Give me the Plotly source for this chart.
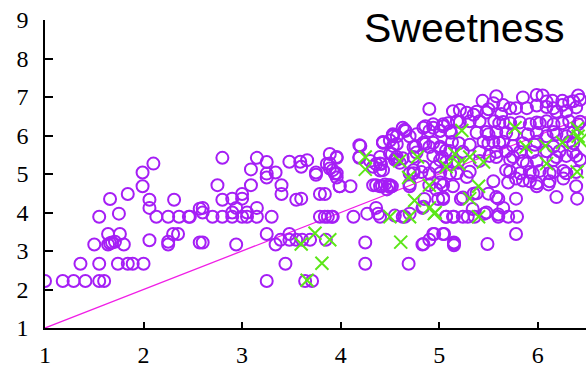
import plotly.graph_objects as go

# Rated sweetness (x) against predicted sweetness (y)
train_x = [
    1.00, 1.18, 1.29, 1.41, 1.55, 1.60, 1.36, 1.55, 1.74, 1.84, 1.89, 2.00,
    1.50, 1.64, 1.68, 1.71, 1.66, 1.80, 1.64, 1.76, 1.55, 1.75, 1.66, 1.84,
    1.99, 1.99, 2.10, 2.06, 2.06, 2.06, 2.13, 2.25, 2.36, 2.46, 2.25, 2.25,
    2.30, 2.35, 2.31, 2.57, 2.57, 2.80, 3.15, 3.25, 3.09, 3.25, 3.25, 3.34,
    3.48, 3.59, 3.66, 3.60, 3.75, 3.75, 3.89, 3.96, 3.86, 3.89, 3.94, 3.96,
    2.75, 3.09, 3.40, 3.40, 2.90, 3.00, 3.00, 2.80, 3.55, 3.60, 3.79, 3.84,
    2.60, 2.60, 2.94, 3.15, 2.47, 2.70, 2.80, 2.90, 3.00, 3.05, 3.15, 3.30,
    2.90, 3.05, 3.79, 3.84, 3.87, 3.91, 3.25, 3.48, 3.39, 3.48, 3.55, 3.61,
    3.69, 3.85, 3.34, 2.60, 2.94, 3.44, 3.25, 3.64, 3.71, 3.99, 4.10, 4.20,
    4.19, 4.30, 4.36, 4.41, 4.40, 4.43, 4.53, 4.53, 4.52, 4.57, 4.60, 4.36,
    4.42, 4.49, 4.52, 4.13, 4.27, 4.36, 4.40, 4.25, 4.25, 4.55, 4.83, 4.90,
    4.95, 5.05, 5.15, 5.15, 4.69, 3.92, 4.38, 4.65, 4.70, 4.85, 4.83, 4.99,
    5.04, 5.07, 5.15, 5.22, 4.90, 5.58, 5.44, 5.55, 5.65, 5.85, 5.99, 6.05,
    6.15, 6.25, 6.36, 6.41, 5.14, 5.21, 5.28, 5.35, 5.50, 5.63, 5.72, 5.78,
    5.89, 5.99, 6.09, 6.16, 6.25, 6.29, 6.39, 4.94, 5.04, 5.09, 5.18, 5.31,
    5.41, 5.56, 5.61, 5.72, 5.82, 5.92, 6.02, 6.09, 6.16, 6.25, 6.32, 6.41,
    4.53, 4.65, 4.86, 5.01, 5.12, 5.38, 5.50, 5.75, 5.90, 5.99, 6.09, 6.19,
    6.29, 4.43, 4.57, 4.76, 4.86, 5.01, 5.13, 5.20, 5.31, 5.50, 5.61, 5.75,
    5.85, 5.97, 6.16, 6.36, 4.40, 4.55, 4.74, 4.94, 5.03, 5.19, 5.51, 5.58,
    5.75, 5.89, 5.99, 6.19, 6.29, 6.39, 4.43, 4.74, 4.82, 5.01, 5.18, 5.28,
    5.68, 5.82, 5.95, 6.12, 6.29, 6.39, 4.70, 5.01, 5.70, 5.85, 5.99, 4.45,
    4.50, 5.04, 5.24, 5.38, 5.58, 5.78, 6.19, 6.40, 4.84, 5.07, 5.14, 5.29,
    5.34, 5.48, 5.60, 5.70, 5.79, 4.63, 4.94, 5.04, 4.84, 5.15, 5.49, 5.78,
    5.78, 5.99, 6.11, 6.26, 6.39, 5.60, 5.50, 5.35, 5.65, 5.60, 5.46, 5.36,
    5.24, 6.09, 6.32, 6.43, 5.38, 5.48, 6.19, 5.21, 5.65, 5.99, 6.43, 5.48,
    5.58, 5.68, 6.16, 6.36, 5.45, 5.55, 5.65, 5.99, 6.32, 5.11, 5.24, 5.41,
    5.58, 5.68, 5.82, 5.95, 6.09, 6.22, 6.36, 5.14, 5.41, 5.72, 5.85, 6.16,
    6.43, 5.31, 5.72, 5.92, 6.02, 6.16, 6.26, 5.55, 5.92, 6.12, 5.04, 4.94,
    5.11, 5.01, 4.84, 4.90, 4.63, 4.66, 4.57, 4.70, 4.53, 4.77, 4.43, 4.50,
    4.84, 4.94, 4.19, 4.74, 4.90, 5.01, 5.07, 4.77, 4.50, 4.57, 4.63, 3.96,
    4.19, 4.40, 4.33, 4.84, 5.01, 5.07, 4.97, 5.11, 4.90, 4.70, 4.74, 3.89,
    3.92, 3.96, 4.33, 4.40, 4.50, 4.47, 4.70, 4.90, 4.97, 5.04, 5.14, 3.99,
]
train_y = [
    2.22, 2.22, 2.22, 2.22, 2.22, 2.22, 2.67, 2.67, 2.67, 2.67, 2.67, 2.67,
    3.17, 3.17, 3.22, 3.24, 3.20, 3.17, 3.44, 3.44, 3.89, 3.97, 4.35, 4.48,
    4.68, 5.04, 5.27, 4.33, 4.12, 3.28, 3.89, 3.89, 3.89, 3.89, 3.24, 3.17,
    3.44, 3.44, 4.33, 4.10, 3.22, 5.42, 5.42, 5.31, 5.12, 5.01, 4.91, 5.04,
    5.32, 5.32, 5.36, 5.19, 5.04, 4.98, 5.52, 5.42, 5.26, 5.14, 5.01, 4.91,
    4.71, 4.71, 4.71, 4.48, 4.36, 4.48, 4.36, 4.33, 4.33, 4.36, 4.48, 4.48,
    4.12, 4.00, 4.12, 4.12, 3.89, 3.89, 3.89, 3.89, 3.89, 3.89, 3.89, 3.89,
    4.00, 4.00, 3.89, 3.89, 3.89, 3.89, 3.44, 3.44, 3.29, 3.29, 3.29, 3.29,
    3.29, 3.29, 3.17, 3.22, 3.17, 2.67, 2.22, 2.22, 2.22, 4.68, 4.68, 5.73,
    5.42, 5.34, 5.26, 5.26, 5.09, 5.82, 6.00, 5.73, 5.52, 5.37, 5.29, 4.71,
    4.68, 4.71, 4.68, 3.89, 3.97, 4.12, 3.89, 3.22, 2.67, 3.92, 3.17, 3.29,
    3.44, 3.44, 3.22, 3.15, 2.67, 3.89, 3.97, 3.89, 3.97, 4.35, 4.12, 4.35,
    4.35, 3.89, 3.89, 4.35, 6.69, 7.02, 6.90, 6.84, 6.79, 6.99, 7.05, 7.04,
    6.90, 6.90, 6.89, 7.04, 6.63, 6.66, 6.59, 6.54, 6.68, 6.56, 6.71, 6.71,
    6.71, 6.78, 6.74, 6.71, 6.79, 6.63, 6.73, 6.29, 6.24, 6.32, 6.37, 6.37,
    6.37, 6.37, 6.32, 6.32, 6.34, 6.29, 6.32, 6.37, 6.29, 6.32, 6.37, 6.29,
    5.98, 6.15, 6.24, 6.12, 6.07, 6.07, 6.03, 6.03, 6.03, 6.07, 5.98, 6.03,
    5.98, 5.83, 5.78, 5.71, 5.78, 5.71, 5.83, 5.80, 5.76, 5.80, 5.81, 5.73,
    5.80, 5.76, 5.71, 5.80, 5.44, 5.37, 5.44, 5.47, 5.44, 5.29, 5.47, 5.44,
    5.44, 5.27, 5.34, 5.44, 5.47, 5.47, 5.10, 5.02, 5.05, 5.02, 5.02, 4.92,
    5.10, 5.02, 5.02, 5.02, 5.02, 5.05, 4.74, 4.78, 4.78, 4.83, 4.76, 4.73,
    4.66, 4.39, 4.39, 4.50, 4.40, 4.36, 4.40, 4.36, 4.15, 3.89, 3.89, 3.89,
    4.09, 4.00, 3.89, 3.89, 3.89, 3.89, 3.44, 3.44, 3.18, 3.19, 3.18, 3.44,
    4.88, 4.68, 4.73, 4.88, 4.68, 4.36, 4.49, 4.49, 4.12, 3.95, 3.97, 3.89,
    3.89, 6.88, 6.86, 6.93, 6.62, 6.60, 6.62, 6.35, 6.35, 6.34, 6.36, 6.09,
    6.09, 6.07, 6.09, 6.07, 5.84, 5.84, 5.84, 5.84, 5.84, 5.60, 5.58, 5.57,
    5.57, 5.59, 5.57, 5.57, 5.59, 5.59, 5.57, 5.32, 5.34, 5.37, 5.34, 5.36,
    5.37, 5.06, 5.06, 5.05, 5.08, 5.05, 5.08, 4.81, 4.81, 4.81, 6.29, 6.20,
    6.12, 6.12, 6.20, 6.12, 6.20, 6.12, 5.98, 5.98, 6.03, 6.03, 5.81, 5.87,
    5.81, 5.81, 5.75, 5.70, 5.70, 5.66, 5.61, 5.56, 5.53, 5.44, 5.41, 5.44,
    5.44, 5.27, 5.19, 5.19, 5.36, 5.31, 5.19, 5.02, 5.02, 5.02, 5.10, 5.27,
    5.10, 5.02, 4.71, 4.68, 4.71, 4.60, 4.68, 4.71, 4.60, 4.71, 4.68, 4.68,
]

test_x = [
    5.23, 5.77, 6.40, 6.41, 5.88, 6.08, 6.25, 6.43, 4.60, 4.78, 5.16, 5.31,
    5.45, 5.07, 5.20, 6.09, 6.40, 4.69, 4.90, 5.40, 4.75, 4.90, 5.31, 4.50,
    4.70, 4.95, 5.40, 4.61, 4.25, 4.25, 3.74, 3.60, 3.89, 3.81, 3.66, 4.96,
]
test_y = [
    6.13, 6.20, 6.18, 5.98, 5.70, 5.73, 5.82, 5.87, 5.34, 5.44, 5.52, 5.44,
    5.31, 5.19, 5.26, 5.27, 5.06, 4.91, 4.71, 4.68, 4.31, 4.12, 4.36, 3.89,
    3.89, 3.97, 3.89, 3.23, 5.44, 5.12, 3.46, 3.18, 3.29, 2.68, 2.24, 4.00,
]

# Identity reference line y = x
ref_line = [1, 9]

x_ticks = [1, 2, 3, 4, 5, 6]
y_ticks = [1, 2, 3, 4, 5, 6, 7, 8, 9]

fig = go.Figure()
fig.add_trace(go.Scatter(
    x=ref_line, y=ref_line, mode="lines",
    line=dict(color="#f01ee6", width=1.3), hoverinfo="skip",
))
fig.add_trace(go.Scatter(
    x=train_x, y=train_y, mode="markers",
    marker=dict(symbol="circle-open", size=12, color="#a51ef5",
                line=dict(width=2, color="#a51ef5")),
))
fig.add_trace(go.Scatter(
    x=test_x, y=test_y, mode="markers",
    marker=dict(symbol="x-thin-open", size=13, color="#5ce619",
                line=dict(width=2, color="#5ce619")),
))

tick_font = dict(family="Liberation Serif", size=24, color="black")
fig.update_layout(
    width=586, height=368,
    margin=dict(l=45, r=0, t=20, b=33),
    paper_bgcolor="white", plot_bgcolor="white",
    showlegend=False,
    xaxis=dict(
        range=[1, 6.49], tickvals=x_ticks, ticktext=[str(v) for v in x_ticks],
        showgrid=False, zeroline=False, showline=True, linecolor="black",
        linewidth=1.5, ticks="inside", ticklen=6, tickwidth=1.5,
        tickcolor="black", tickfont=tick_font, ticklabelstandoff=4,
    ),
    yaxis=dict(
        range=[1, 9], tickvals=y_ticks, ticktext=[str(v) for v in y_ticks],
        showgrid=False, zeroline=False, showline=True, linecolor="black",
        linewidth=1.5, ticks="inside", ticklen=8, tickwidth=1.5,
        tickcolor="black", tickfont=tick_font, ticklabelstandoff=10,
    ),
    annotations=[dict(
        text="Sweetness", xref="paper", yref="paper", x=0.965, y=0.975,
        xanchor="right", yanchor="middle", showarrow=False,
        font=dict(family="Liberation Sans", size=41, color="black"),
    )],
)

fig.write_html("out.html")
